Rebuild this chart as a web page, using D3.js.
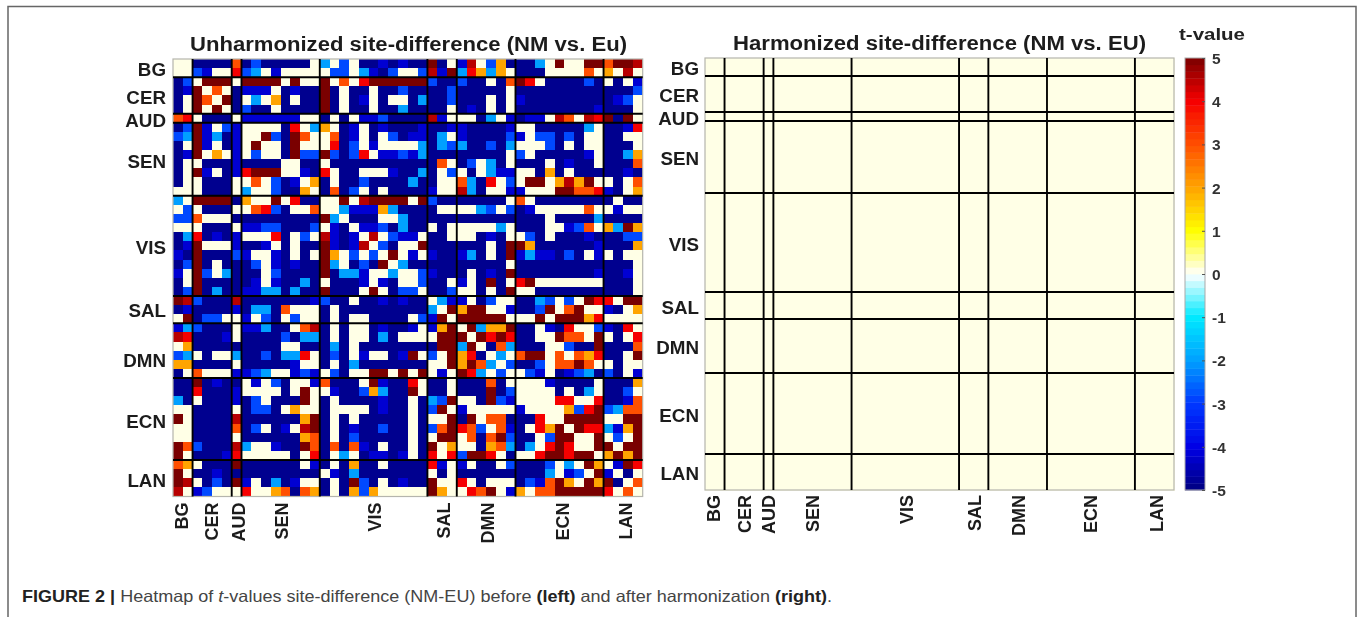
<!DOCTYPE html>
<html>
<head>
<meta charset="utf-8">
<script src="https://cdn.jsdelivr.net/npm/d3@7"></script>
<style>
html,body{margin:0;padding:0;background:#fff;overflow:hidden}
svg{display:block}
text{font-family:"Liberation Sans",Arial,sans-serif}
</style>
</head>
<body>
<svg id="c" width="1360" height="617"></svg>
<script>
// Network names and how many nodes each one holds
const networks = ["BG","CER","AUD","SEN","VIS","SAL","DMN","ECN","LAN"];
const networkSizes = [2,4,1,8,11,3,6,9,4];
const colorbarTicks = [-5,-4,-3,-2,-1,0,1,2,3,4,5];

// t-value read for each colour seen in the picture
const tByCode = {n:-4.85,b:-4.2,l:-2.85,c:-2,W:0.1,y:2,o:3,r:4,m:4.5,d:5};

// Unharmonized matrix: it is symmetric, so each row lists diagonal -> last column
const unharmonizedRows = [
"WW nnnn o nlnnnnnW cWlWnnbnbnn dnW bmWlyn nncWdWWdd oddm",
"W lbWW r lcWbWWWW WllWcbnlWWl mbd crycyW nnnWWWWoW yWmW",
"Wddd W ddddWdWW dWoWrdddddd lnn lnnWno drWnnnnln WnWb",
"WoW n bbbWnbnn dnWnnWnnlnn nnl nnnnnW nnnnnnnnn nnnl",
"Wd n WcWynWnn dnWnbWnWWnc nnl nnnWnW bnnnnnnnn nblW",
"W n lnnWnnnn dnWnnWnncnn nnW nbnWnW nnnnnnnnb nnnW",
"W bbbbbbWW nWnWbblnnnn mbW WWncWb nbbWmoWmr dndW",
"WWWWnrWc yWnbWnbnnnb nnb bnnnnb WWnnnnncW nnbr",
"WdlndoW WonbWnWlnbb ncW bnnnnl bWllnlnWW nnWW",
"WWndWW WrnlWbWWWWc ncl cnnlnc WWWlnWnWW nnnW",
"Wndll dlnlrWbblbc nnn nnnnnW lWnnnnnbW nncy",
"WWnn Wnnnnnnnnnn noW nlWcnW nnnWnbnnW nnno",
"Wbn rWnnWWWbnnc nWl WnWcbb WWnynWnnn nnbn",
"Wy nWnnlnnnncn nWW ocnrWl WddWymydW WnWo",
"W nonlWnWnnnn bWW mcnWWb bWWWddoor bnWy",
"WWdWmddddWd lnn nnnnnW oWnnnnnnn nWnn",
"Wcbbbycnnn nWW WWclWl nbWWWWWoW WbWW",
"WnnnWWcnn nnn nnnnnn nnnWnnnnc nnnn",
"Wbblncnn WnW WWWWcW nnnWWbloW ycdy",
"WmWlbbW nnW WWnbnW WlnWnnnbn nnll",
"WlnWWd nnn nnnWnd dynnnnnnb nnny",
"WdWbW bnn bcnWnd bcbbnlnWb WnWW",
"Wcnn nnn nnnnnW nnnnnnnnn nnnW",
"WWl bnn nWnbnd nnnnnnnnb nnbW",
"Wl nnW bWndnW rdWWWWWWW nnnW",
"W nnl WWnWnd WWnnnnnnn nnnW",
"Wcb bWnlWW nnclWlWdr rWdd",
"Wd yddWWb nnldWodWW bnWy",
"W dddddW WWdWdddyr WWWW",
"Wdcyyd nnWbnrWWl bnrW",
"Wdrdr nnWWdooWd WnWr",
"Wnoc nnnWWlnnd nnno",
"WcW oddWoWoyr nnWd",
"Wl nnlWoodoW WnWW",
"W WlbWnblcn lnWb",
"WWWbnnnnW nnny",
"WWWnWncW nnlW",
"WWrrWWr nnbo",
"WWylrd lcoo",
"Wdddd WWdd",
"Wdrr cbyd",
"WWd WlWd",
"Wd dWdd",
"W ydyd",
"Wbdr",
"WnW",
"Wo",
"W"
];
// After harmonization no edge differs: every cell reads the same pale value
const harmonizedT = 0.1;

const titleLeft = "Unharmonized site-difference (NM vs. Eu)";
const titleRight = "Harmonized site-difference (NM vs. EU)";
const colorbarTitle = "t-value";

// ---------- layout ----------
const n = d3.sum(networkSizes);
const boundaries = d3.cumsum(networkSizes);
const starts = boundaries.map((b,i)=>b-networkSizes[i]);
const ids = d3.range(n);

const color = d3.scaleLinear()
  .domain([-5,-4,-3,-2,-1,0,1,2,3,4,5])
  .range(["#000080","#0000e6","#0038ff","#00a0ff","#00eaff","#ffffff","#ffff00","#ffa400","#ff5000","#f60000","#7a0000"])
  .clamp(true);

const values = ids.map(()=>new Array(n).fill(0));
unharmonizedRows.forEach((row,r)=>{
  row.replace(/ /g,"").split("").forEach((code,k)=>{
    values[r][r+k]=tByCode[code];
    values[r+k][r]=tByCode[code];
  });
});
const harmonized = ids.map(()=>ids.map(()=>harmonizedT));

const svg = d3.select("#c");
const defs = svg.append("defs");
defs.append("filter").attr("id","soft").attr("filterUnits","userSpaceOnUse")
  .attr("x",0).attr("y",0).attr("width",1360).attr("height",617)
  .append("feGaussianBlur").attr("stdDeviation",0.55);

// page frame, open at the bottom
svg.append("rect").attr("x",8).attr("y",6.5).attr("width",1348).attr("height",800)
  .attr("fill","#fff").attr("stroke","#666").attr("stroke-width",1.5);

const g = svg.append("g").attr("filter","url(#soft)");

function panel(matrix,box,opts){
  const x = d3.scaleBand().domain(ids).range([box.x0,box.x1]);
  const y = d3.scaleBand().domain(ids).range([box.y0,box.y1]);
  const p = g.append("g");
  p.append("g").attr("shape-rendering","crispEdges").selectAll("g").data(matrix).join("g").each(function(row,r){
    d3.select(this).selectAll("rect").data(row).join("rect")
      .attr("x",(d,c)=>x(c)).attr("y",y(r))
      .attr("width",x.bandwidth()+0.5).attr("height",y.bandwidth()+0.5)
      .attr("fill",d=>color(d));
  });
  p.append("rect").attr("x",box.x0).attr("y",box.y0)
    .attr("width",box.x1-box.x0).attr("height",box.y1-box.y0)
    .attr("fill","none").attr("stroke","#b5b5ad").attr("stroke-width",1.2);
  const inner = boundaries.slice(0,-1);
  const lx = c=>box.x0+c*x.step(), ly = c=>box.y0+c*y.step();
  p.append("g").selectAll("line").data(inner).join("line")
    .attr("x1",d=>lx(d)).attr("x2",d=>lx(d)).attr("y1",box.y0).attr("y2",box.y1)
    .attr("stroke","#000").attr("stroke-width",1.9);
  p.append("g").selectAll("line").data(inner).join("line")
    .attr("y1",d=>ly(d)).attr("y2",d=>ly(d)).attr("x1",box.x0).attr("x2",box.x1)
    .attr("stroke","#000").attr("stroke-width",1.9);

  const labelFill = "#1c1c1c";
  p.append("g").selectAll("text").data(networks).join("text")
    .attr("x",box.x0-opts.yGap)
    .attr("y",(d,i)=>ly(starts[i]+networkSizes[i]/2)+opts.yNudge[i])
    .attr("dy","0.36em").attr("text-anchor","end")
    .attr("font-weight","bold").attr("font-size",18.8).attr("fill",labelFill)
    .text(d=>d);
  p.append("g").selectAll("text").data(networks).join("text")
    .attr("transform",(d,i)=>`translate(${lx(starts[i]+networkSizes[i]/2)+opts.xNudge[i]},${box.y1+opts.xGap}) rotate(-90)`)
    .attr("dy","0.36em").attr("text-anchor","end")
    .attr("font-weight","bold").attr("font-size",18).attr("fill",labelFill)
    .text(d=>d);
  g.append("text").attr("x",opts.titleX0).attr("y",opts.titleY)
    .attr("textLength",opts.titleLen).attr("lengthAdjust","spacingAndGlyphs")
    .attr("font-weight","bold").attr("font-size",19.5).attr("fill","#1c1c1c")
    .text(opts.title);
}

panel(values,{x0:173,x1:642.7,y0:59,y1:496.5},{
  yGap:7,xGap:6,
  yNudge:[1,1.5,1.5,1.5,1.5,1,10,2.5,1.5],
  xNudge:[-1,-1,1.5,0.5,0.5,1,1,3,2],
  title:titleLeft,titleX0:190,titleLen:437,titleY:51
});
panel(harmonized,{x0:705,x1:1174,y0:58,y1:490},{
  yGap:6,xGap:5,
  yNudge:[1,1,1.5,1,1.5,1.5,1,1.5,1],
  xNudge:[-1,0,0.5,0.5,1,1,1,0,2],
  title:titleRight,titleX0:733,titleLen:413,titleY:50
});

// colour bar: stepped bands, as in the picture
const bands = 64;
const cy = d3.scaleLinear().domain([-5,5]).range([490,58]);
const cb = g.append("g");
cb.selectAll("rect").data(d3.range(bands)).join("rect")
  .attr("x",1185).attr("width",20)
  .attr("y",i=>cy(-5+(i+1)*10/bands))
  .attr("height",(cy(-5)-cy(5))/bands+0.4)
  .attr("fill",i=>color(-5+(i+0.5)*10/bands));
cb.append("rect").attr("x",1185).attr("y",58).attr("width",20).attr("height",432)
  .attr("fill","none").attr("stroke","#a9a9a9").attr("stroke-width",1);
const axis = cb.append("g").attr("transform","translate(1205,0)")
  .call(d3.axisRight(cy).tickValues(colorbarTicks).tickSizeInner(-3).tickSizeOuter(0).tickPadding(7).tickFormat(d=>String(d)));
axis.select(".domain").remove();
axis.selectAll("line").attr("stroke","#555");
axis.selectAll("text").attr("font-weight","bold").attr("font-size",15.5).attr("fill","#333")
  .attr("dy","0.36em").style("font-family",'"Liberation Sans",Arial,sans-serif');
g.append("text").attr("x",1179).attr("y",40).attr("textLength",66).attr("lengthAdjust","spacingAndGlyphs")
  .attr("font-weight","bold").attr("font-size",17).attr("fill","#222").text(colorbarTitle);

// caption
const cap = svg.append("text").attr("x",22).attr("y",602).attr("font-size",16.5).attr("fill","#444")
  .attr("textLength",810).attr("lengthAdjust","spacingAndGlyphs")
  .style("font-family",'"Liberation Sans",Arial,sans-serif');
[["FIGURE 2 | ",700,"normal","#222"],["Heatmap of ",400,"normal"],["t",400,"italic"],["-values site-difference (NM-EU) before ",400,"normal"],
 ["(left)",700,"normal","#222"],[" and after harmonization ",400,"normal"],["(right)",700,"normal","#222"],[".",400,"normal"]]
 .forEach(([t,w,s,f])=>{cap.append("tspan").style("font-weight",w).style("font-style",s).attr("fill",f||"#444").text(t);});
</script>
</body>
</html>
